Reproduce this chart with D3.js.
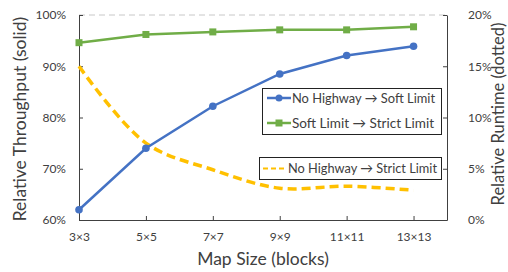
<!DOCTYPE html>
<html><head><meta charset="utf-8">
<script src="https://cdn.jsdelivr.net/npm/d3@7"></script>
<style>body{margin:0;background:#fff}svg{display:block}text{font-family:Lato,"Open Sans",sans-serif;fill:#404040}</style>
</head><body><svg id="c" width="508" height="272"></svg>
<script>
const categories = ["3×3","5×5","7×7","9×9","11×11","13×13"];
const noHwSoft = [62.0, 74.0, 82.2, 88.5, 92.1, 93.9];
const softStrict = [94.6, 96.2, 96.7, 97.1, 97.1, 97.7];
const noHwStrict = [15.0, 7.5, 4.9, 3.1, 3.3, 2.9];
const leftTicks = [60,70,80,90,100];
const rightTicks = [0,5,10,15,20];
const seriesNames = ["No Highway → Soft Limit","Soft Limit → Strict Limit","No Highway → Strict Limit"];

const svg = d3.select("#c");
const L=79, R=447, T=15, B=220;
const x = d3.scaleLinear().domain([0, categories.length-0.5]).range([L,R]);
const yL = d3.scaleLinear().domain([60,100]).range([B,T]);
const yR = d3.scaleLinear().domain([0,20]).range([B,T]);

svg.append("line").attr("x1",L).attr("x2",R).attr("y1",yL(100)).attr("y2",yL(100))
  .attr("stroke","#c8c8c8").attr("stroke-width",1).attr("stroke-dasharray","6,4");

const axisStyle = g => { g.select(".domain").attr("stroke","#404040"); g.selectAll(".tick line").attr("stroke","#404040"); g.selectAll("text").attr("fill","#404040").style("font-size","12px").style("font-family","Lato,'Open Sans',sans-serif"); };

svg.append("g").attr("transform",`translate(0,${B})`)
  .call(d3.axisBottom(x).tickValues(d3.range(categories.length)).tickFormat(i=>categories[i]).tickSizeInner(-4).tickSizeOuter(0).tickPadding(12))
  .call(axisStyle);
svg.append("g").attr("transform",`translate(${L},0)`)
  .call(d3.axisLeft(yL).tickValues(leftTicks).tickFormat(d=>d+"%").tickSizeInner(-4).tickSizeOuter(0).tickPadding(13))
  .call(axisStyle);
svg.append("g").attr("transform",`translate(${R},0)`)
  .call(d3.axisRight(yR).tickValues(rightTicks).tickFormat(d=>d+"%").tickSizeInner(-4).tickSizeOuter(0).tickPadding(21))
  .call(axisStyle);

const lineL = d3.line().x((d,i)=>x(i)).y(d=>yL(d));
const lineR = d3.line().x((d,i)=>x(i)).y(d=>yR(d)).curve(d3.curveCatmullRom.alpha(0.5));
svg.append("path").datum(noHwStrict).attr("d",lineR).attr("fill","none").attr("stroke","#FFC000").attr("stroke-width",3.5).attr("stroke-dasharray","9,5");
svg.append("path").datum(softStrict).attr("d",lineL).attr("fill","none").attr("stroke","#70AD47").attr("stroke-width",2.5);
svg.append("path").datum(noHwSoft).attr("d",lineL).attr("fill","none").attr("stroke","#4472C4").attr("stroke-width",2.5);
svg.selectAll(".sq").data(softStrict).join("rect").attr("x",(d,i)=>x(i)-3.5).attr("y",d=>yL(d)-3.5).attr("width",7).attr("height",7).attr("fill","#70AD47");
svg.selectAll(".ci").data(noHwSoft).join("circle").attr("cx",(d,i)=>x(i)).attr("cy",d=>yL(d)).attr("r",3.8).attr("fill","#4472C4");

const lg1 = svg.append("g");
lg1.append("rect").attr("x",262.5).attr("y",88.5).attr("width",179).attr("height",46).attr("fill","#fff").attr("stroke","#222").attr("stroke-width",1);
[[0,"#4472C4",98,143],[1,"#70AD47",123,142]].forEach(([k,c,yy,w])=>{
  lg1.append("line").attr("x1",267).attr("x2",291).attr("y1",yy).attr("y2",yy).attr("stroke",c).attr("stroke-width",2.5);
  if(k===0) lg1.append("circle").attr("cx",279).attr("cy",yy).attr("r",3.5).attr("fill",c);
  else lg1.append("rect").attr("x",275.5).attr("y",yy-3.5).attr("width",7).attr("height",7).attr("fill",c);
  lg1.append("text").attr("x",292).attr("y",yy+4.5).style("font-size","13.5px").attr("textLength",w).attr("lengthAdjust","spacingAndGlyphs").text(seriesNames[k]);
});
const lg2 = svg.append("g");
lg2.append("rect").attr("x",259.5).attr("y",157.5).attr("width",182).attr("height",22).attr("fill","#fff").attr("stroke","#222").attr("stroke-width",1);
lg2.append("line").attr("x1",263).attr("x2",287).attr("y1",168.5).attr("y2",168.5).attr("stroke","#FFC000").attr("stroke-width",2).attr("stroke-dasharray","5,3");
lg2.append("text").attr("x",288).attr("y",173).style("font-size","13.5px").attr("textLength",149).attr("lengthAdjust","spacingAndGlyphs").text(seriesNames[2]);

svg.append("text").attr("x",263).attr("y",265).attr("text-anchor","middle").style("font-size","17.5px").text("Map Size (blocks)");
svg.append("text").attr("transform","translate(26,119) rotate(-90)").attr("text-anchor","middle").style("font-size","17.5px").text("Relative Throughput (solid)");
svg.append("text").attr("transform","translate(504,114) rotate(-90)").attr("text-anchor","middle").style("font-size","16.5px").text("Relative Runtime (dotted)");
</script></body></html>
